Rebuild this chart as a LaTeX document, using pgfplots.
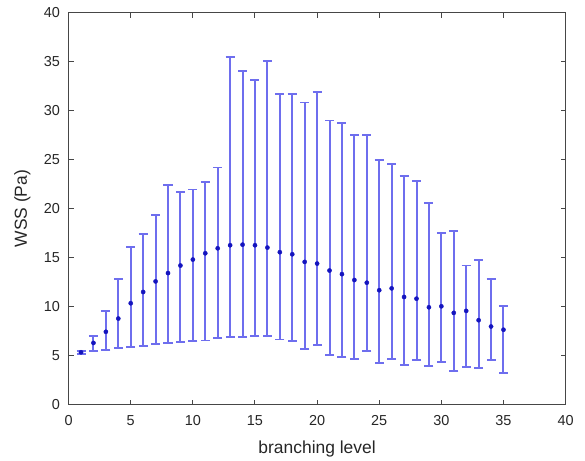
\documentclass[border=0pt]{standalone}
\usepackage{pgfplots}
\pgfplotsset{compat=1.18}
\usepackage{pgfplotstable}
\usepackage{fontspec}
\setmainfont{Liberation Sans}
\definecolor{barblue}{RGB}{110,110,238}
\definecolor{dotblue}{RGB}{20,20,190}
\definecolor{axgray}{RGB}{70,70,70}
\pgfplotstableread{
x y hi lo
1 5.35 5.5 5.2
2 6.3 7.04 5.45
3 7.44 9.57 5.58
4 8.79 12.85 5.82
5 10.35 16.06 5.92
6 11.5 17.41 5.99
7 12.58 19.34 6.16
8 13.43 22.38 6.29
9 14.2 21.74 6.39
10 14.81 21.95 6.49
11 15.45 22.72 6.56
12 15.96 24.21 6.8
13 16.27 35.5 6.87
14 16.33 34.05 6.87
15 16.27 33.16 6.97
16 16.03 35.03 7.04
17 15.56 31.71 6.66
18 15.35 31.71 6.49
19 14.57 30.83 5.68
20 14.4 31.92 6.09
21 13.69 29.0 5.11
22 13.32 28.74 4.84
23 12.72 27.56 4.63
24 12.45 27.49 5.48
25 11.68 24.99 4.23
26 11.87 24.58 4.63
27 10.99 23.3 4.03
28 10.82 22.82 4.53
29 9.94 20.59 3.96
30 10.04 17.48 4.33
31 9.37 17.69 3.45
32 9.57 14.2 3.85
33 8.62 14.78 3.75
34 7.98 12.82 4.53
35 7.65 10.04 3.25
}\wss
\begin{document}
\begin{tikzpicture}
\begin{axis}[
  scale only axis,
  width=497bp, height=392bp,
  xmin=0, xmax=40, ymin=0, ymax=40,
  xtick={0,5,...,40}, ytick={0,5,...,40},
  tick align=inside,
  major tick length=5bp,
  axis line style={axgray, line width=1.4bp},
  every tick/.style={axgray, line width=1bp},
  /pgf/number format/assume math mode=true,
  tick label style={font=\fontsize{14.5}{16}\selectfont, text=black!85},
  yticklabel style={inner sep=0pt, xshift=-8.5bp},
  xticklabel style={inner sep=0pt, yshift=-11bp},
  xlabel={branching level},
  ylabel={WSS (Pa)},
  label style={font=\fontsize{17.5}{20}\selectfont, text=black!85},
  x label style={at={(axis description cs:0.5,-0.113)}, anchor=center},
  y label style={at={(axis description cs:-0.093,0.5)}, anchor=center},
  clip=false,
]
\addplot[only marks, mark=*, mark size=2.1bp, mark options={dotblue, fill=dotblue},
  error bars/.cd, y dir=both, y explicit,
  error bar style={barblue, line width=2bp},
  error mark options={barblue, line width=1.8bp, mark size=4.5bp, rotate=90}]
  table[x=x, y=y, y error plus expr=\thisrow{hi}-\thisrow{y}, y error minus expr=\thisrow{y}-\thisrow{lo}] {\wss};
\end{axis}
\path (current axis.south west) ++(-68.6bp,-53.3bp) rectangle ++(585bp,458bp);
\end{tikzpicture}
\end{document}
